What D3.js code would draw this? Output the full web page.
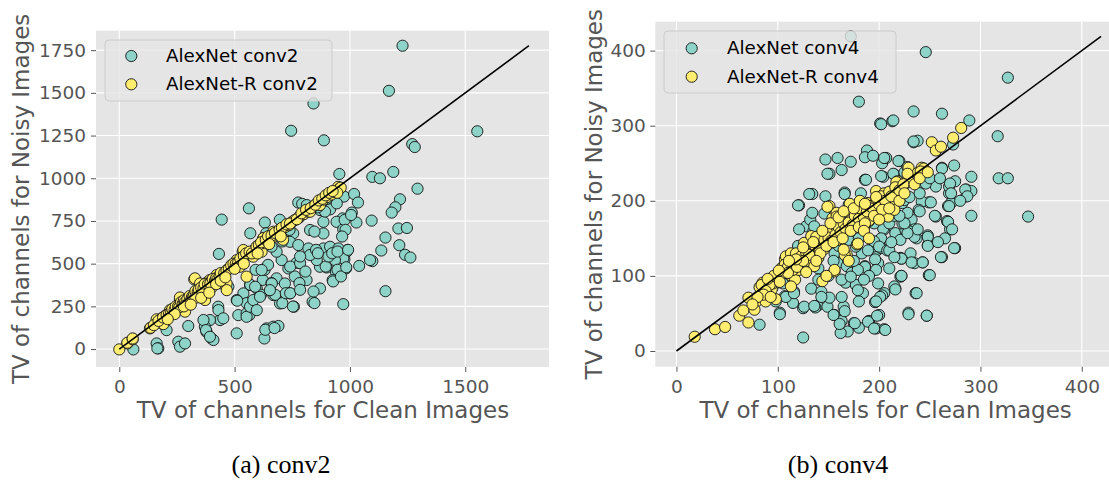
<!DOCTYPE html>
<html><head><meta charset="utf-8">
<script src="https://cdn.jsdelivr.net/npm/d3@7"></script>
<style>
html,body{margin:0;padding:0;background:#fff;}
svg{display:block;}
</style></head>
<body>
<svg id="chart" width="1109" height="481"></svg>
<script>
// ---------------- DATA ----------------
const conv2Ticks = [0, 500, 1000, 1500];
const conv2YTicks = [0, 250, 500, 750, 1000, 1250, 1500, 1750];
const conv4Ticks = [0, 100, 200, 300, 400];
const conv4YTicks = [0, 100, 200, 300, 400];

const seriesNames2 = ["AlexNet conv2", "AlexNet-R conv2"];
const seriesNames4 = ["AlexNet conv4", "AlexNet-R conv4"];
const captions = ["(a) conv2", "(b) conv4"];
const xLabel = "TV of channels for Clean Images";
const yLabel = "TV of channels for Noisy Images";

// AlexNet conv2: [clean TV, noisy TV]
const alexConv2 = [
[1228,1776],[1169,1512],[842,1438],[745,1278],[887,1222],[1552,1275],[1270,1200],[1281,1183],[1188,1037],[1097,1008],
[954,1025],[1293,939],[974,893],[1018,908],[1035,858],[1217,877],[1197,830],[1181,799],[1008,799],[1028,741],
[1094,752],[1210,706],[1247,709],[1214,608],[1136,577],[1154,653],[1239,552],[1262,536],[1097,515],[1040,487],
[1154,339],[971,263],[562,824],[444,758],[432,557],[776,858],[793,850],[631,741],[696,757],[968,765],
[989,580],[976,525],[983,472],[813,843],[870,814],[914,818],[943,853],[885,745],[942,745],[971,701],
[827,697],[885,677],[754,677],[704,697],[653,658],[624,619],[740,628],[776,609],[820,589],[856,570],
[885,589],[914,599],[950,589],[986,570],[1087,521],[971,531],[935,521],[899,478],[939,453],[925,404],
[870,482],[856,521],[827,551],[769,505],[733,472],[704,521],[682,570],[624,466],[682,414],[718,384],
[812,404],[870,355],[838,277],[757,248],[697,267],[668,316],[596,355],[567,375],[538,326],[509,287],
[516,199],[552,209],[564,199],[509,92],[639,121],[668,131],[690,135],[629,62],[429,248],[437,170],
[393,170],[371,131],[378,101],[400,62],[408,53],[299,135],[205,111],[162,33],[169,4],[256,43],
[263,14],[285,33],[61,-2],[473,365],[740,326],[633,113],[673,123],[552,269],[511,283],[568,376],
[614,318],[622,405],[630,464],[645,493],[660,386],[676,318],[707,269],[722,327],[741,327],[753,249],
[761,425],[741,483],[784,503],[807,454],[781,386],[784,347],[846,269],[842,337],[853,581],[861,561],
[895,483],[907,542],[927,396],[946,464],[961,425],[923,561],[946,571],[984,479],[992,581],[977,756],
[981,698],[966,659],[846,688],[892,805],[738,698],[637,678],[568,678],[591,464],[660,600],[707,630],
[784,542],[165,4],[365,170],[376,111],[393,72],[430,228],[451,180],[552,189],[567,248],[581,287],
[589,365],[617,463],[596,228],[610,306],[661,384],[653,345],[450,430],[520,500],[350,330],[300,280],
[700,690],[780,770],[860,830],[900,880],[1005,785],[1130,1000]
];

// AlexNet-R conv2
const robustConv2 = [
[0,-2],[35,33],[35,37],[58,57],[58,62],[133,121],[136,125],[162,174],[184,150],[184,180],
[191,146],[213,189],[200,195],[220,228],[235,215],[250,245],[256,238],[263,287],[263,302],[270,260],
[285,219],[292,267],[290,280],[300,300],[310,290],[320,310],[325,408],[328,414],[335,330],[345,330],
[350,384],[350,345],[360,350],[364,345],[371,326],[372,287],[375,370],[380,390],[390,375],[393,404],
[400,400],[410,395],[422,433],[430,420],[444,384],[451,443],[450,440],[460,450],[465,384],[466,345],
[470,465],[480,475],[490,480],[500,495],[509,521],[520,510],[523,482],[530,525],[535,570],[538,580],
[545,540],[552,424],[560,555],[570,565],[581,541],[580,575],[590,585],[600,595],[617,570],[624,648],
[625,650],[630,620],[640,635],[650,645],[668,658],[668,687],[680,670],[690,690],[700,695],[710,640],
[720,715],[735,725],[750,745],[760,755],[780,775],[800,790],[815,805],[827,804],[840,835],[855,850],
[870,843],[885,875],[900,890],[920,905],[935,920],[942,930],[949,950],[955,940],[960,945],[945,915],
[150,140],[170,165],[190,185],[205,200],[215,205],[225,215],[230,235],[240,230],[245,250],[255,250],
[260,245],[268,275],[275,265],[280,285],[285,275],[295,290],[305,310],[315,305],[318,300],[325,320],
[330,340],[340,335],[345,350],[355,360],[365,355],[370,380],[385,380],[395,385],[405,410],[415,400],
[420,415],[425,405],[435,430],[440,445],[455,445],[465,460],[475,470],[485,490],[495,500],[505,500],
[515,505],[525,530],[540,545],[550,560],[565,570],[575,560],[595,600],[605,610],[615,625],[635,640],
[645,660],[660,665],[675,680],[695,700],[705,710],[725,730],[740,735],[770,760],[790,795],[810,815],
[830,825],[850,845],[865,870],[880,880],[895,900],[910,915],[925,925],[300,270],[280,250],[330,300],
[360,320],[400,360],[420,380],[355,300],[310,260],[240,205],[210,175],[390,330],[440,400],[460,420],
[500,470],[540,500],[600,560],[650,615],[700,660]
];

// AlexNet conv4
const alexConv4 = [
[172,419],[246,398],[327,364],[180,332],[234,319],[262,316],[201,303],[213,306],[289,307],[317,286],
[234,278],[238,280],[273,275],[262,244],[274,247],[147,255],[159,257],[172,252],[151,236],[163,241],
[188,267],[186,258],[194,260],[203,250],[207,257],[220,253],[204,232],[215,235],[186,228],[291,232],
[318,230],[327,230],[286,215],[291,213],[286,206],[347,179],[291,180],[269,210],[269,219],[268,193],
[267,173],[270,162],[275,137],[256,219],[246,225],[249,198],[256,179],[242,199],[239,188],[248,154],
[248,141],[243,118],[262,125],[249,101],[247,47],[229,51],[236,77],[231,130],[221,124],[221,99],
[216,83],[205,77],[203,74],[200,48],[197,30],[205,29],[190,40],[180,31],[175,37],[169,26],
[162,24],[125,18],[82,35],[102,51],[125,57],[139,60],[149,59],[156,48],[165,59],[163,40],
[114,76],[107,73],[133,83],[143,79],[151,71],[167,91],[177,88],[184,77],[196,65],[201,72],
[186,113],[197,133],[202,137],[199,117],[196,122],[201,148],[205,162],[194,139],[183,130],[177,139],
[170,148],[156,130],[159,117],[168,113],[173,104],[163,95],[128,166],[121,162],[135,159],[132,175],
[134,184],[121,194],[134,209],[147,206],[166,211],[182,210],[98,66],[216,157],[221,148],[226,161],
[232,175],[228,184],[223,197],[232,157],[235,162],[237,150],[275,226],[271,197],[149,236],[187,228],
[202,233],[214,236],[225,238],[146,183],[225,201],[223,170],[230,159],[235,152],[204,163],[202,150],
[195,146],[189,134],[200,139],[208,134],[222,123],[235,117],[197,108],[186,112],[179,108],[172,99],
[143,72],[116,79],[115,64],[108,72],[102,49],[137,58],[161,36],[176,37],[189,39],[195,30],
[198,47],[180,66],[163,72],[179,81],[166,53],[215,86],[199,90],[197,66],[222,100],[116,77],
[126,59],[136,60],[155,48],[131,209],[166,209],[136,166],[120,194],[214,307],[202,302],[234,279],
[219,253],[205,257],[228,245],[262,243],[270,223],[271,210],[285,215],[287,206],[238,222],[246,223],
[251,198],[240,186],[255,180],[269,193],[268,172],[272,162],[248,152],[248,140],[238,162],[228,157],
[225,170],[222,123],[232,118],[243,118],[261,125],[274,137],[222,100],[250,101],[216,82],[237,77],
[229,49],[247,47],[206,28],[210,134],[212,145],[140,110],[150,100],[155,120],[160,140],[145,150],
[130,120],[125,110],[140,95],[175,120],[190,100],[185,95],[210,110],[215,125],[210,170],[215,180],
[180,150],[185,165],[195,170],[210,195],[220,180],[230,205],[240,210],[250,230],[260,230],[280,200],
[265,150],[258,145],[120,140],[110,100],[105,90],[95,85],[90,75],[85,70],[175,180],[170,195]
];

// AlexNet-R conv4
const robustConv4 = [
[18,19],[38,29],[48,32],[62,47],[71,71],[71,38],[66,54],[79,66],[77,55],[88,66],
[82,85],[85,91],[94,82],[98,69],[100,99],[104,111],[107,122],[108,126],[113,130],[114,117],
[114,99],[117,95],[121,108],[126,144],[132,119],[133,153],[136,113],[140,124],[144,93],[145,135],
[151,193],[154,177],[156,162],[158,184],[149,157],[159,148],[156,106],[168,128],[168,162],[171,196],
[173,179],[177,166],[178,142],[183,184],[187,175],[189,197],[192,179],[190,173],[197,213],[199,184],
[204,197],[208,210],[214,199],[209,179],[218,226],[223,215],[230,237],[229,244],[242,244],[252,278],
[256,267],[261,272],[273,284],[281,297],[84,88],[95,90],[103,101],[107,115],[115,108],[113,86],
[118,130],[130,134],[138,152],[156,108],[159,148],[158,179],[166,128],[169,161],[172,174],[179,143],
[190,174],[196,197],[215,206],[223,214],[230,225],[238,237],[149,192],[244,243],[241,239],[217,225],
[228,236],[214,214],[205,210],[213,199],[215,188],[105,104],[110,112],[120,118],[123,126],[128,131],
[131,128],[137,140],[141,136],[146,148],[150,151],[153,147],[157,155],[160,165],[162,158],[165,170],
[167,163],[170,171],[174,168],[176,180],[180,176],[182,190],[185,178],[188,186],[191,193],[194,190],
[198,201],[200,195],[202,206],[206,200],[210,212],[212,206],[216,218],[220,214],[224,222],[99,94],
[92,88],[96,100],[88,80],[102,92],[110,104],[119,112],[125,120],[142,130],[148,140],[155,145],
[164,150],[172,160],[180,165],[186,170],[195,180],[203,188],[135,145],[144,160],[152,170],[160,178],
[165,186],[175,190],[181,200],[186,196],[197,205],[148,100],[165,135],[170,120],[185,160],[190,150],
[200,175],[210,190],[220,200],[225,210],[235,222],[240,230],[248,238],[128,105],[138,120],[125,138],
[118,122],[111,120],[101,107],[90,96],[86,75],[93,72],[80,72],[75,62]
];

// ---------------- DRAW ----------------
const svg = d3.select("#chart");
const TEAL = "#8DD3C7", YELLOW = "#FFED6F", BG = "#E5E5E5", GRAY = "#555555";
const FONT = "'DejaVu Sans', sans-serif";
const R = 5.6;

function panel(cfg) {
  const g = svg.append("g");
  const x = d3.scaleLinear().domain(cfg.xDomain).range(cfg.xRange);
  const y = d3.scaleLinear().domain(cfg.yDomain).range(cfg.yRange);
  const [x0, x1] = cfg.xRange, [y1, y0] = cfg.yRange;

  g.append("rect").attr("x", x0).attr("y", y0).attr("width", x1 - x0).attr("height", y1 - y0).attr("fill", BG);

  // grid
  g.append("g").selectAll("line").data(cfg.xTicks).join("line")
    .attr("x1", d => x(d)).attr("x2", d => x(d)).attr("y1", y0).attr("y2", y1)
    .attr("stroke", "#fff").attr("stroke-width", 1.1);
  g.append("g").selectAll("line").data(cfg.yTicks).join("line")
    .attr("y1", d => y(d)).attr("y2", d => y(d)).attr("x1", x0).attr("x2", x1)
    .attr("stroke", "#fff").attr("stroke-width", 1.1);

  // axes
  const ax = g.append("g").attr("transform", `translate(0,${y1})`)
    .call(d3.axisBottom(x).tickValues(cfg.xTicks).tickFormat(d3.format("d")).tickSize(5).tickPadding(8));
  const ay = g.append("g").attr("transform", `translate(${x0},0)`)
    .call(d3.axisLeft(y).tickValues(cfg.yTicks).tickFormat(d3.format("d")).tickSize(5).tickPadding(cfg.yPad));
  [ax, ay].forEach(a => {
    a.select(".domain").remove();
    a.selectAll(".tick line").attr("stroke", GRAY).attr("stroke-width", 1);
    a.selectAll(".tick text").attr("fill", GRAY).style("font-family", FONT).style("font-size", "18.5px");
  });

  // clip
  const clipId = "clip" + cfg.id;
  svg.append("clipPath").attr("id", clipId).append("rect")
    .attr("x", x0).attr("y", y0).attr("width", x1 - x0).attr("height", y1 - y0);
  const plot = g.append("g").attr("clip-path", `url(#${clipId})`);

  plot.append("g").selectAll("circle").data(cfg.s1).join("circle")
    .attr("cx", d => x(d[0])).attr("cy", d => y(d[1])).attr("r", R)
    .attr("fill", TEAL).attr("stroke", "#111").attr("stroke-width", 0.9);
  plot.append("g").selectAll("circle").data(cfg.s2).join("circle")
    .attr("cx", d => x(d[0])).attr("cy", d => y(d[1])).attr("r", R)
    .attr("fill", YELLOW).attr("stroke", "#111").attr("stroke-width", 0.9);

  const all = cfg.s1.concat(cfg.s2);
  const mx = d3.max(all, d => Math.max(d[0], d[1]));
  plot.append("line").attr("x1", x(0)).attr("y1", y(0)).attr("x2", x(mx)).attr("y2", y(mx))
    .attr("stroke", "#000").attr("stroke-width", 1.6);

  // labels
  g.append("text").attr("x", cfg.xLabelX).attr("y", cfg.xLabelY).attr("text-anchor", "middle")
    .attr("fill", GRAY).style("font-family", FONT).style("font-size", "23px").text(xLabel);
  g.append("text").attr("transform", `translate(${cfg.yLabelX},${(y0 + y1) / 2}) rotate(-90)`)
    .attr("text-anchor", "middle").attr("fill", GRAY).style("font-family", FONT).style("font-size", "23px").text(yLabel);

  // legend
  const L = cfg.legend;
  const lg = g.append("g");
  lg.append("rect").attr("x", L.x).attr("y", L.y).attr("width", L.w).attr("height", L.h).attr("rx", 4)
    .attr("fill", BG).attr("fill-opacity", 0.8).attr("stroke", "#CCCCCC").attr("stroke-width", 1);
  [[cfg.names[0], TEAL], [cfg.names[1], YELLOW]].forEach(([name, col], i) => {
    lg.append("circle").attr("cx", L.mx).attr("cy", L.my + i * L.dy).attr("r", R)
      .attr("fill", col).attr("stroke", "#111").attr("stroke-width", 0.9);
    lg.append("text").attr("x", L.tx).attr("y", L.ty + i * L.dy).attr("fill", "#000")
      .style("font-family", FONT).style("font-size", "18.3px").text(name);
  });

  // caption
  svg.append("text").attr("x", cfg.capX).attr("y", 473).attr("text-anchor", "middle")
    .style("font-family", "'Liberation Serif', serif").style("font-size", "26px").attr("fill", "#000").text(cfg.caption);
}

panel({
  id: "a", s1: alexConv2, s2: robustConv2, names: seriesNames2, caption: captions[0],
  xDomain: [-101, 1863], xRange: [96, 549], yDomain: [-105, 1864], yRange: [367, 30.7],
  xTicks: conv2Ticks, yTicks: conv2YTicks, yPad: 5,
  xLabelX: 323, xLabelY: 418, yLabelX: 28.5,
  legend: {x: 105, y: 40, w: 227, h: 61, mx: 131.3, my: 56, dy: 28.3, tx: 166, ty: 61.8},
  capX: 281
});
panel({
  id: "b", s1: alexConv4, s2: robustConv4, names: seriesNames4, caption: captions[1],
  xDomain: [-20.9, 438], xRange: [655.3, 1120.3], yDomain: [-20.9, 438.5], yRange: [366.7, 21.7],
  xTicks: conv4Ticks, yTicks: conv4YTicks, yPad: 4.5,
  xLabelX: 885.6, xLabelY: 418, yLabelX: 602,
  legend: {x: 664, y: 31, w: 232, h: 62, mx: 691.7, my: 48.3, dy: 28.4, tx: 727, ty: 54.2},
  capX: 838
});
</script>
</body></html>
